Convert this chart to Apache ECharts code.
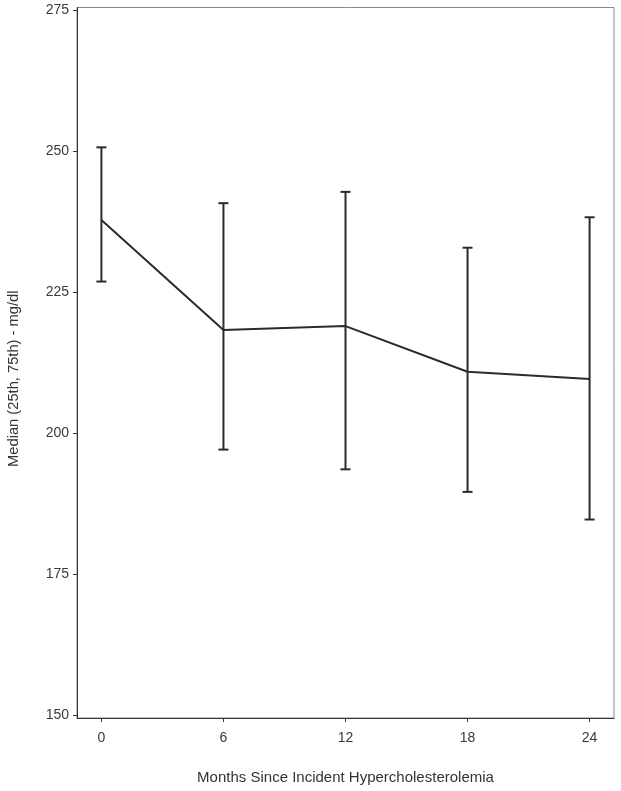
<!DOCTYPE html>
<html>
<head>
<meta charset="utf-8">
<script src="https://cdn.jsdelivr.net/npm/echarts@6/dist/echarts.min.js"></script>
<style>
  html, body { margin: 0; padding: 0; background: #fff; }
  #main { width: 621px; height: 791px; }
</style>
</head>
<body>
<div id="main"></div>
<script>
// months since incident hypercholesterolemia
var months = [0, 6, 12, 18, 24];
// median, 25th and 75th percentile (mg/dl)
var median = [237.8, 218.3, 219.0, 210.9, 209.6];
var p25 = [226.9, 197.1, 193.6, 189.6, 184.7];
var p75 = [250.7, 240.8, 242.8, 232.9, 238.3];
// tick labels
var xTicks = [0, 6, 12, 18, 24];
var yTicks = [150, 175, 200, 225, 250, 275];

var myChart = echarts.init(document.getElementById("main"));

var lineData = months.map(function (m, i) { return [m, median[i]]; });
var barData = months.map(function (m, i) { return [m, p25[i], p75[i]]; });

var option = {
  animation: false,
  backgroundColor: "#fff",
  textStyle: { fontFamily: "Liberation Sans, Arial, sans-serif" },
  grid: {
    left: 77, right: 7, top: 7.5, bottom: 73,
    outerBoundsMode: "none",
    containLabel: false,
    show: true, borderColor: "#8a8a8a", borderWidth: 1
  },
  xAxis: {
    type: "value",
    min: -1.2,
    max: 25.2,
    name: "Months Since Incident Hypercholesterolemia",
    nameLocation: "middle",
    nameGap: 52,
    nameTextStyle: { color: "#333", fontSize: 15 },
    splitLine: { show: false },
    axisLine: { show: true, onZero: false, lineStyle: { color: "#333", width: 1 } },
    axisTick: { show: true, length: 4, lineStyle: { color: "#333" }, customValues: xTicks },
    axisLabel: { color: "#3a3a3a", fontSize: 14, margin: 13, customValues: xTicks }
  },
  yAxis: {
    type: "value",
    min: 149.5,
    max: 275.5,
    name: "Median (25th, 75th) - mg/dl",
    nameLocation: "middle",
    nameRotate: 90,
    nameGap: 56,
    nameTextStyle: { color: "#333", fontSize: 14.7, padding: [0, 32, 0, 0] },
    splitLine: { show: false },
    axisLine: { show: true, onZero: false, lineStyle: { color: "#333", width: 1 } },
    axisTick: { show: true, length: 4, lineStyle: { color: "#333" }, customValues: yTicks },
    axisLabel: { color: "#3a3a3a", fontSize: 14, margin: 8, customValues: yTicks }
  },
  series: [
    {
      type: "custom",
      data: barData,
      renderItem: function (params, api) {
        var x = api.value(0);
        var lo = api.coord([x, api.value(1)]);
        var hi = api.coord([x, api.value(2)]);
        var half = 5;
        var style = { stroke: "#2b2b2b", lineWidth: 2 };
        return {
          type: "group",
          children: [
            { type: "line", shape: { x1: lo[0], y1: lo[1], x2: hi[0], y2: hi[1] }, style: style },
            { type: "line", shape: { x1: hi[0] - half, y1: hi[1], x2: hi[0] + half, y2: hi[1] }, style: style },
            { type: "line", shape: { x1: lo[0] - half, y1: lo[1], x2: lo[0] + half, y2: lo[1] }, style: style }
          ]
        };
      },
      z: 2
    },
    {
      type: "line",
      data: lineData,
      showSymbol: false,
      lineStyle: { color: "#2b2b2b", width: 2 },
      z: 3
    }
  ]
};

option && myChart.setOption(option);
</script>
</body>
</html>
